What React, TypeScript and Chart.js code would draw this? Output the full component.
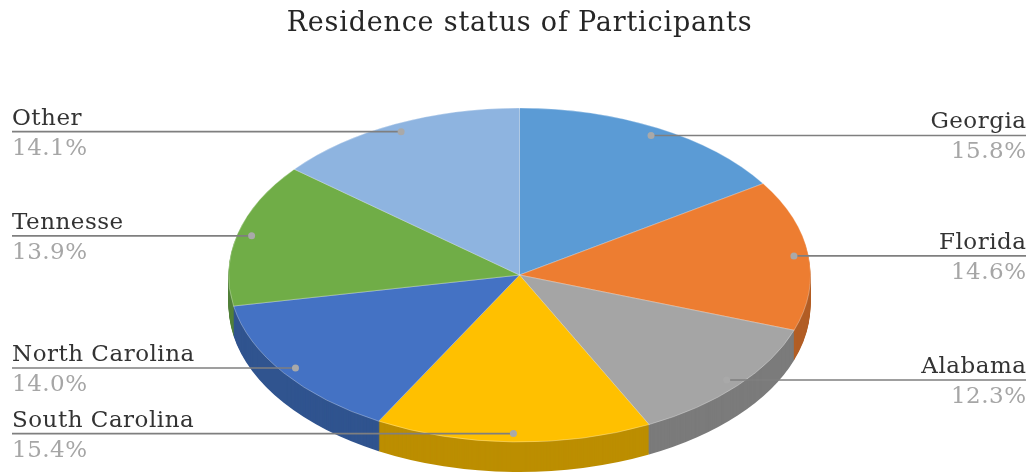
import React, { useEffect, useRef } from "react";
import { Chart, registerables } from "chart.js";

Chart.register(...registerables);

const titleText = "Residence status of Participants";
const categories = ["Georgia", "Florida", "Alabama", "South Carolina", "North Carolina", "Tennesse", "Other"];
const shares = [15.8, 14.6, 12.3, 15.4, 14.0, 13.9, 14.1];
const labelSides = ["right", "right", "right", "left", "left", "left", "left"];
const topColors = ["#5B9BD5", "#ED7D31", "#A5A5A5", "#FFC000", "#4472C4", "#70AD47", "#8EB4E0"];
const sideColors = ["#44749F", "#B25E25", "#7B7B7B", "#BC8E00", "#30548F", "#52803A", "#6A87A8"];

// geometry of the tilted pie on screen
const CX = 519.5;
const CY = 275;
const RX = 291;
const RY = 167;
const DEPTH = 30;
const FONT = "'DejaVu Serif', serif";

function pieGeom(chart: any) {
  const meta = chart.getDatasetMeta(0);
  const el = meta.data[0];
  const p = el.getProps(["x", "y", "outerRadius"], true);
  return { x: p.x, y: p.y, sx: RX / p.outerRadius, sy: RY / p.outerRadius };
}

function applyTilt(ctx: CanvasRenderingContext2D, g: any) {
  ctx.translate(CX, CY);
  ctx.scale(g.sx, g.sy);
  ctx.translate(-g.x, -g.y);
}

const pie3d = {
  id: "pie3d",
  beforeDraw(chart: any) {
    (chart.ctx as any).letterSpacing = "0.8px";
  },
  beforeDatasetsDraw(chart: any) {
    const ctx: CanvasRenderingContext2D = chart.ctx;
    const g = pieGeom(chart);
    const meta = chart.getDatasetMeta(0);
    ctx.save();
    for (let k = DEPTH; k >= 1; k--) {
      ctx.save();
      ctx.translate(0, k);
      applyTilt(ctx, g);
      meta.data.forEach((el: any, i: number) => {
        const a = el.getProps(["x", "y", "startAngle", "endAngle", "outerRadius"], true);
        ctx.beginPath();
        ctx.moveTo(a.x, a.y);
        ctx.arc(a.x, a.y, a.outerRadius, a.startAngle, a.endAngle);
        ctx.closePath();
        ctx.fillStyle = sideColors[i];
        ctx.fill();
      });
      ctx.restore();
    }
    applyTilt(ctx, g);
  },
  afterDatasetsDraw(chart: any) {
    chart.ctx.restore();
  },
  afterDraw(chart: any) {
    const ctx: CanvasRenderingContext2D = chart.ctx;
    const meta = chart.getDatasetMeta(0);
    const W = chart.width;
    meta.data.forEach((el: any, i: number) => {
      const a = el.getProps(["startAngle", "endAngle"], true);
      const mid = (a.startAngle + a.endAngle) / 2;
      const px = CX + 0.95 * RX * Math.cos(mid);
      const py = CY + 0.95 * RY * Math.sin(mid);
      const right = labelSides[i] === "right";
      const edge = right ? W - 6 : 12;
      ctx.save();
      ctx.strokeStyle = "#7F7F7F";
      ctx.lineWidth = 1.6;
      ctx.beginPath();
      ctx.moveTo(edge, py);
      ctx.lineTo(px, py);
      ctx.stroke();
      ctx.fillStyle = "#A9A9A9";
      ctx.beginPath();
      ctx.arc(px, py, 3.5, 0, Math.PI * 2);
      ctx.fill();
      (ctx as any).letterSpacing = "0.5px";
      ctx.textAlign = right ? "right" : "left";
      ctx.textBaseline = "alphabetic";
      ctx.font = `23px ${FONT}`;
      ctx.fillStyle = "#333333";
      ctx.fillText(categories[i], right ? edge + 0.5 : edge, py - 7);
      ctx.fillStyle = "#A6A6A6";
      ctx.fillText(shares[i].toFixed(1) + "%", right ? edge + 0.5 : edge, py + 23);
      ctx.restore();
    });
    (ctx as any).letterSpacing = "0px";
  },
};

export default function App() {
  const ref = useRef<HTMLCanvasElement>(null);
  useEffect(() => {
    document.body.style.margin = "0";
    const chart = new Chart(ref.current!, {
      type: "pie",
      data: {
        labels: categories,
        datasets: [
          {
            data: shares,
            backgroundColor: topColors,
            borderColor: "rgba(255,255,255,0.45)",
            borderWidth: 0.6,
            clip: false,
          } as any,
        ],
      },
      options: {
        responsive: false,
        animation: false,
        devicePixelRatio: 1,
        events: [],
        layout: { padding: { left: 7, top: 0, right: 0, bottom: 20 } },
        plugins: {
          legend: { display: false },
          tooltip: { enabled: false },
          title: {
            display: true,
            text: titleText,
            color: "#262626",
            font: { family: FONT, size: 27, weight: "normal" },
            padding: { top: 8, bottom: 10 },
          },
        },
      },
      plugins: [pie3d],
    });
    return () => chart.destroy();
  }, []);
  return (
    <div style={{ width: 1032, height: 476 }}>
      <canvas ref={ref} width={1032} height={476} />
    </div>
  );
}
